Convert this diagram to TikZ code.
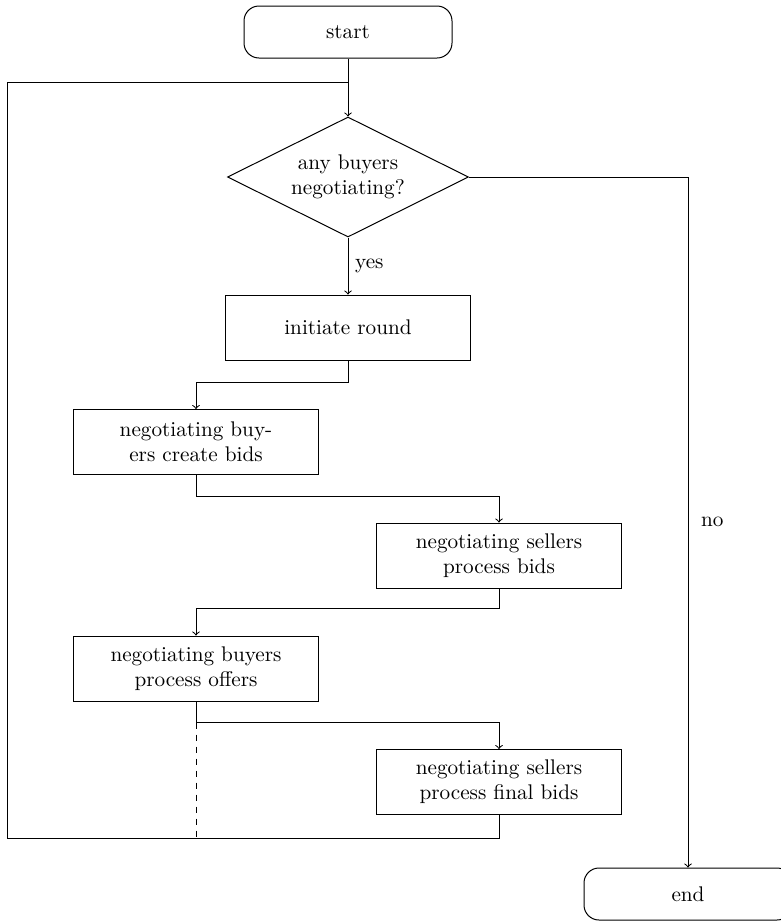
\documentclass[tikz,border=0pt]{standalone}
\usetikzlibrary{shapes.geometric}
\begin{document}
\begin{tikzpicture}[x=0.5pt,y=-0.5pt, line width=0.5pt,
  every node/.style={font=\fontsize{10.6}{12.6}\selectfont},
  terminal/.style={draw, rounded corners=7.5pt, minimum width=104pt, minimum height=26pt},
  decision/.style={draw, diamond, aspect=2, inner sep=0pt, minimum width=120.5pt, minimum height=60pt, align=center},
  process/.style={draw, minimum width=122.5pt, minimum height=32.5pt, align=center},
  flow/.style={->},
  loopback/.style={dashed}]
\useasboundingbox (0,0) rectangle (781,922);

% nodes
\node[terminal] (start) at (348,32) {start};
\node[decision] (any) at (348,177) {any buyers\\negotiating?};
\node[process] (init) at (348,327.5) {initiate round};
\node[process] (bids) at (196,442) {negotiating buy-\\ers create bids};
\node[process] (sbids) at (499,555.5) {negotiating sellers\\process bids};
\node[process] (offers) at (196,668.5) {negotiating buyers\\process offers};
\node[process] (final) at (499,782) {negotiating sellers\\process final bids};
\node[terminal] (end) at (688,894) {end};

\coordinate (loopTL) at (7,82);
\coordinate (loopBL) at (7,838);

% connectors
\draw[flow] (start) -- (any);
\draw[flow] (any) -- node[right] {yes} (init);
\draw[flow] (any.east) -| node[pos=0.75, right, xshift=3pt] {no} (end);
\draw[flow] (init.south) -- ++(0,22) -| (bids);
\draw[flow] (bids.south) -- ++(0,21) -| (sbids);
\draw[flow] (sbids.south) -- ++(0,20) -| (offers);
\draw[flow] (offers.south) -- ++(0,21) coordinate (split) -| (final);
\draw (final.south) -- ++(0,23) -| (loopTL) -- (start.south |- loopTL);
\draw[loopback] (split) |- (loopBL);
\end{tikzpicture}
\end{document}
